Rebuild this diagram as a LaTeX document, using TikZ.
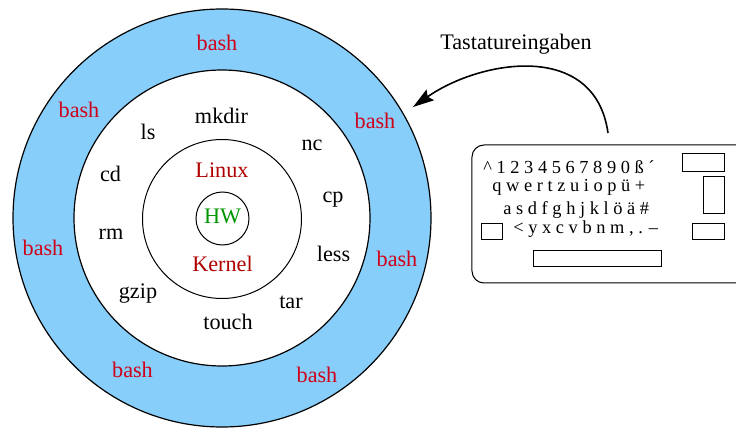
\documentclass[tikz,border=0pt]{standalone}
\usepackage{fontspec}
\setmainfont{Liberation Serif}
\usetikzlibrary{arrows.meta}
\definecolor{ringblue}{RGB}{135,206,250}
\definecolor{bashred}{RGB}{208,0,24}
\definecolor{kernred}{RGB}{176,0,0}
\definecolor{hwgreen}{RGB}{0,150,0}
\tikzset{
  lbl/.style={anchor=base, inner sep=0pt, font=\fontsize{11.1}{13}\selectfont},
  bashlbl/.style={lbl, text=bashred},
  kernlbl/.style={lbl, text=kernred},
  cmdlbl/.style={lbl, text=black},
  keyrow/.style={anchor=base west, inner sep=0pt, font=\fontsize{9.2}{10}\selectfont},
  keybox/.style={draw, line width=0.5pt},
  ringline/.style={draw=black, line width=0.6pt},
}
\begin{document}
\begin{tikzpicture}[x=0.5pt, y=-0.5pt]
\useasboundingbox (0,0) rectangle (736,428);
% rings
\coordinate (c) at (222,218);
\filldraw[ringline, fill=ringblue] (c) circle[radius=209];
\filldraw[ringline, fill=white] (c) circle[radius=148];
\draw[ringline, line width=0.5pt] (222,219) circle[radius=79.5];
\draw[ringline, line width=0.5pt] (222.5,218.5) circle[radius=26.5];
% bash labels
\node[bashlbl] (b1) at (217,50) {bash};
\node[bashlbl] (b2) at (79,118) {bash};
\node[bashlbl] (b3) at (375,128) {bash};
\node[bashlbl] (b4) at (43,255.5) {bash};
\node[bashlbl] (b5) at (397,266.5) {bash};
\node[bashlbl] (b6) at (132.5,377.5) {bash};
\node[bashlbl] (b7) at (317,382.5) {bash};
% commands
\node[cmdlbl] (mkdir) at (221.5,124) {mkdir};
\node[cmdlbl] (ls) at (148,140) {ls};
\node[cmdlbl] (nc) at (312,150) {nc};
\node[cmdlbl] (cd) at (110.5,182) {cd};
\node[cmdlbl] (cp) at (333,203) {cp};
\node[cmdlbl] (rm) at (111,240) {rm};
\node[cmdlbl] (less) at (333.5,261.5) {less};
\node[cmdlbl] (gzip) at (138,298.5) {gzip};
\node[cmdlbl] (tar) at (291,308) {tar};
\node[cmdlbl] (touch) at (228,329) {touch};
% kernel
\node[kernlbl] (linux) at (222,177) {Linux};
\node[lbl, text=hwgreen] (hw) at (222.5,224) {HW};
\node[kernlbl] (kernel) at (222.5,271) {Kernel};
% keyboard
\draw[keybox, rounded corners=6pt] (472,145) rectangle (750,283);
\node[keyrow] (r1) at (483,173.3) {\^{} 1 2 3 4 5 6 7 8 9 0 ß ´};
\node[keyrow] (r2) at (492,191.7) {q w e r t z u i o p ü +};
\node[keyrow] (r3) at (503,214) {a s d f g h j k l ö ä \#};
\node[keyrow] (r4) at (513,234) {< y x c v b n m , . –};
\draw[keybox] (683,154) rectangle (725,172);
\draw[keybox] (704,177) rectangle (725,214);
\draw[keybox] (693,224) rectangle (725,240);
\draw[keybox] (482,224) rectangle (503,240);
\draw[keybox] (534,251) rectangle (662,267);
% arrow
\node[lbl] (tast) at (516,49) {Tastatureingaben};
\coordinate (kbtop) at (608,133);
\coordinate (ringpt) at (413,107);
\draw[line width=0.8pt, -{Stealth[length=10.5pt,width=6.5pt,inset=1.5pt]}]
  (kbtop) .. controls (595,40) and (480,60) .. (ringpt);
\end{tikzpicture}
\end{document}
